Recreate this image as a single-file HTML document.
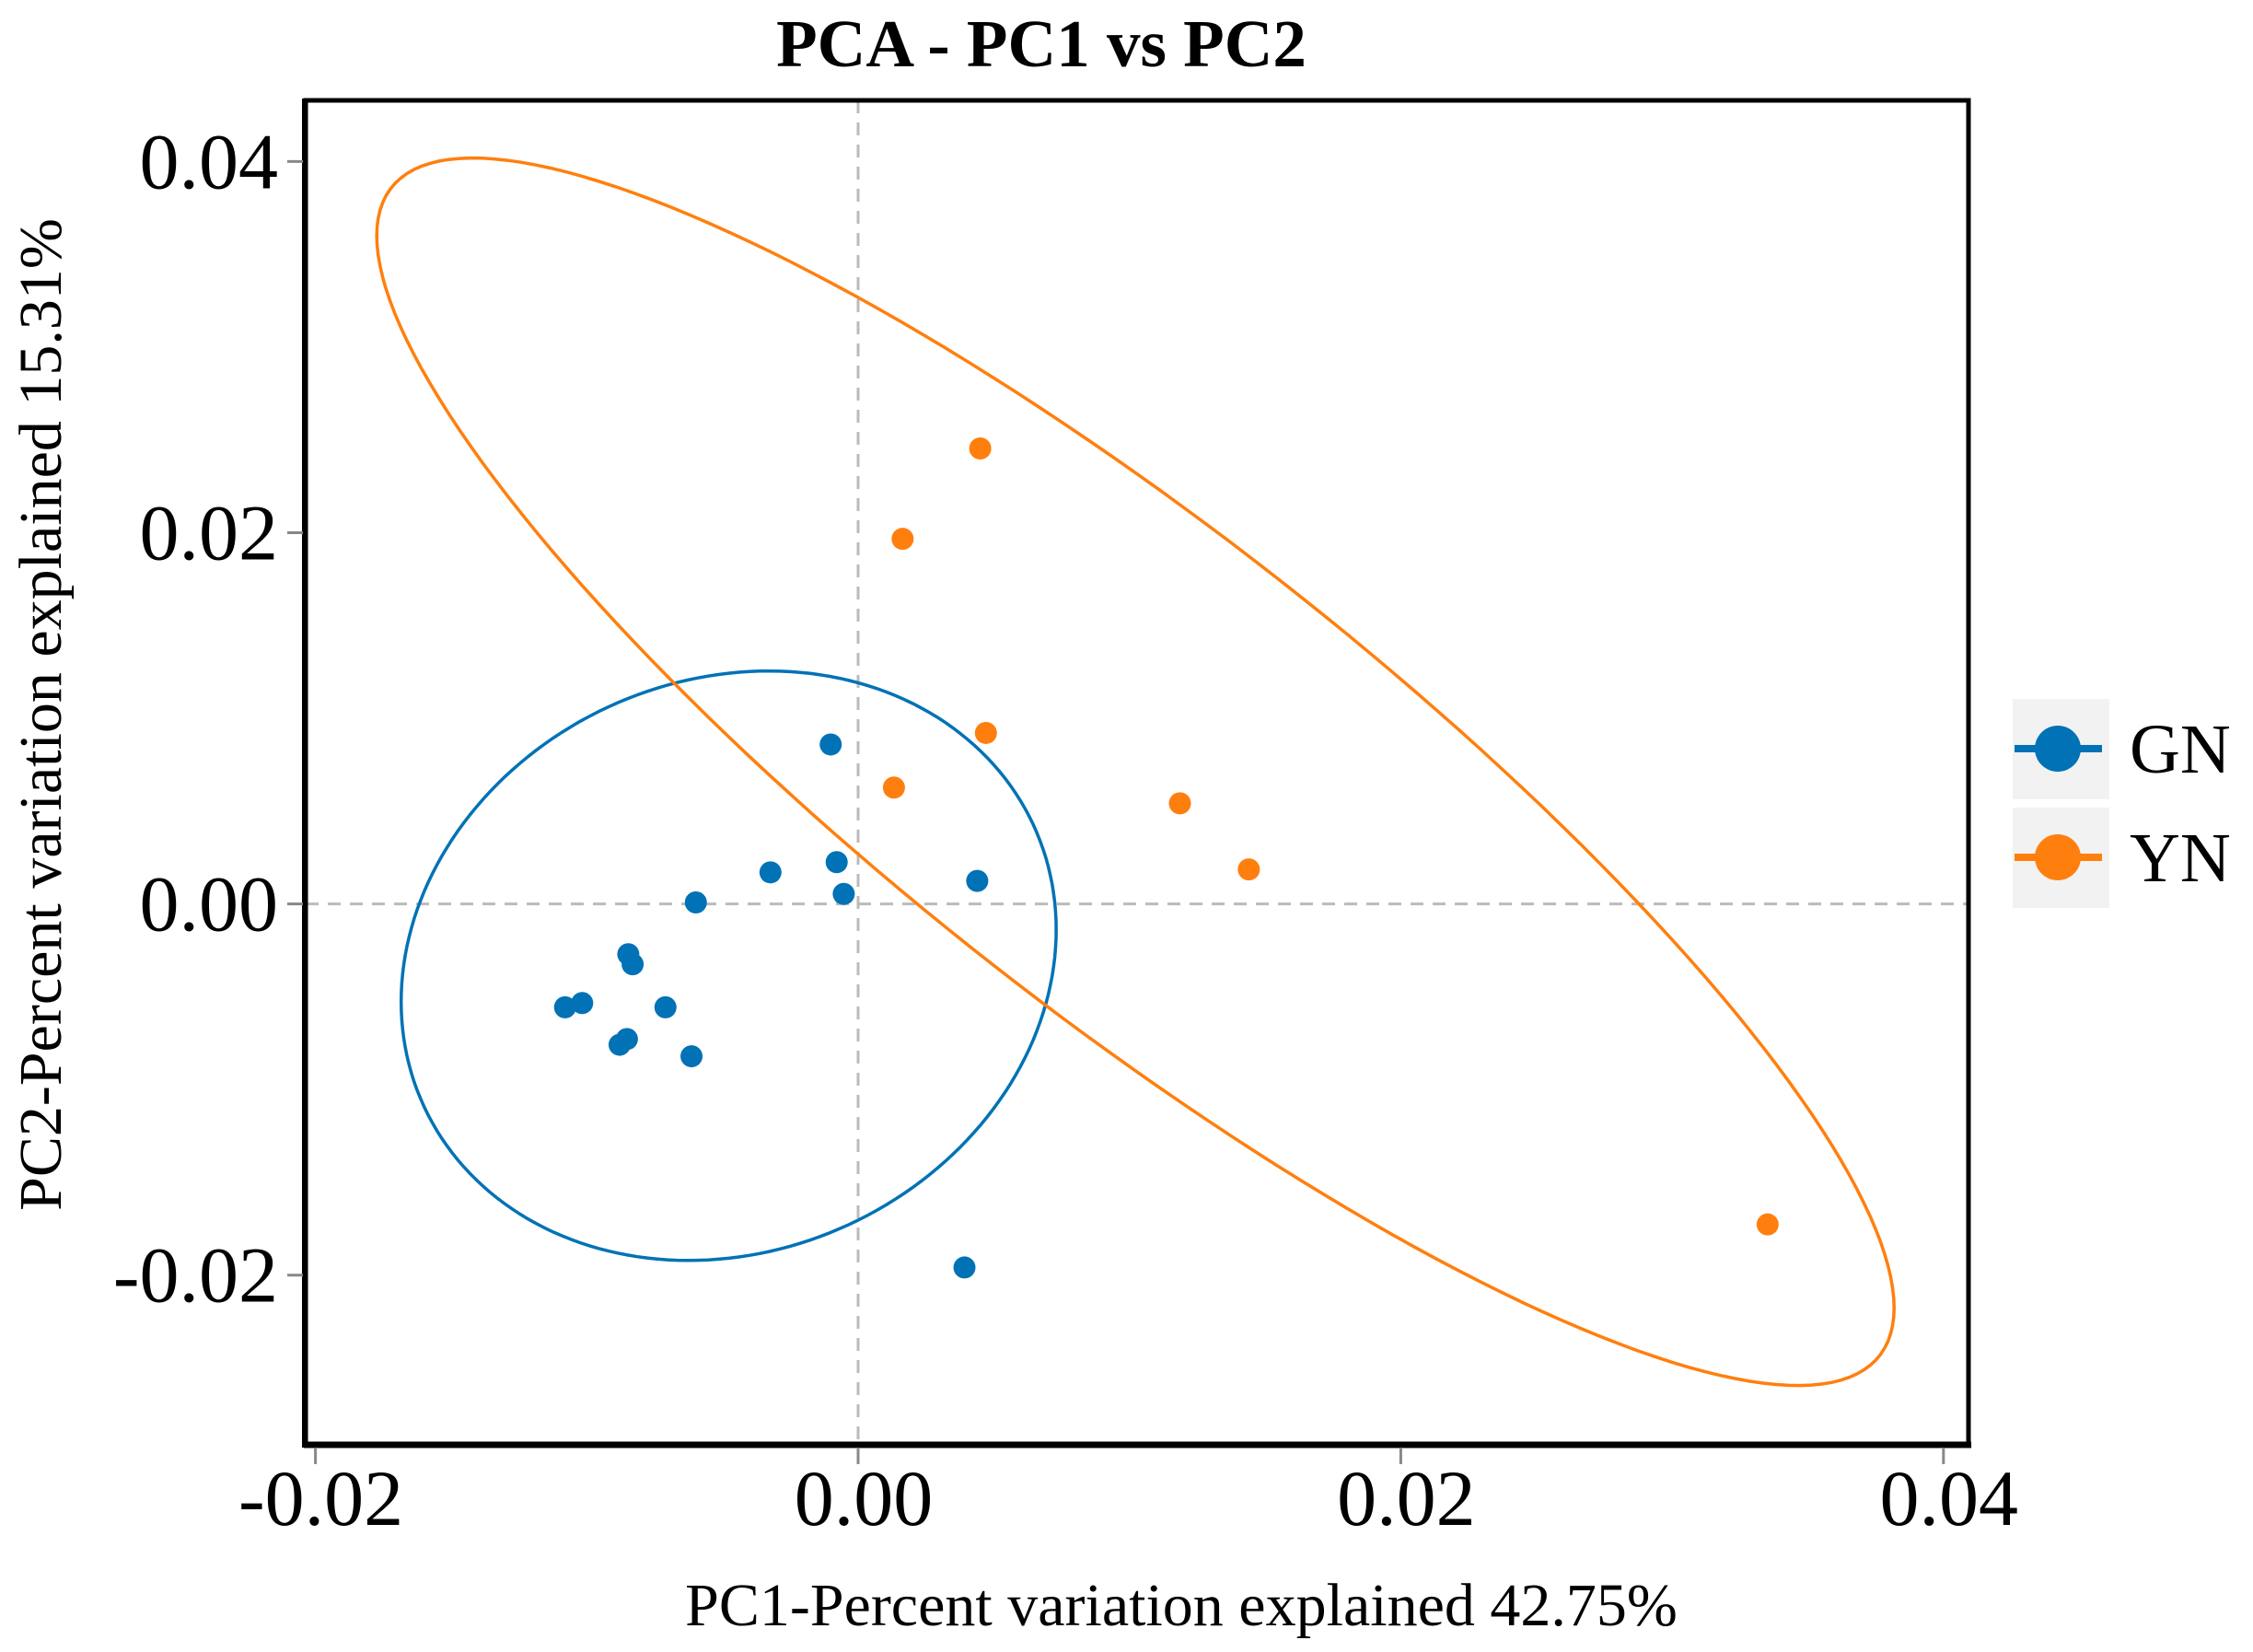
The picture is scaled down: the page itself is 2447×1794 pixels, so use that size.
<!DOCTYPE html>
<html><head><meta charset="utf-8"><style>
html,body{margin:0;padding:0;background:#fff;}
svg{display:block;font-family:"Liberation Serif",serif;}
</style></head><body>
<svg id="chart" width="2447" height="1794" viewBox="0 0 2447 1794" xmlns="http://www.w3.org/2000/svg"></svg>
<script>
const gnX=[-0.00101,-0.00323,-0.00079,-0.00053,0.00439,-0.00598,-0.00847,-0.00831,-0.01080,-0.01017,-0.00710,-0.00852,-0.00879,-0.00614,0.00392];
const gnY=[0.00859,0.00170,0.00225,0.00054,0.00124,0.00008,-0.00271,-0.00325,-0.00557,-0.00534,-0.00557,-0.00728,-0.00759,-0.00821,-0.01959];
const ynX=[0.00450,0.00164,0.00471,0.00132,0.01186,0.01440,0.03352];
const ynY=[0.02454,0.01967,0.00921,0.00627,0.00542,0.00186,-0.01727];
// ellipse: center, conjugate vectors A, B (data units)
const gnEllipse=[-0.00477,-0.00333,0.01207,0.00194,0,0.01576];
const ynEllipse=[0.01022,0.00712,0.02796,-0.02888,0,0.01611];
const xTicks=[-0.02,0.00,0.02,0.04];
const yTicks=[-0.02,0.00,0.02,0.04];
const xTickLabels=["-0.02","0.00","0.02","0.04"];
const yTickLabels=["-0.02","0.00","0.02","0.04"];

const svg=document.getElementById('chart');
const NS="http://www.w3.org/2000/svg";
const L=332,R=2138,T=109,B=1568;
function sx(v){return 932+v/0.02*589.4;}
function sy(v){return 981.6-v/0.02*403.1;}
function mk(tag,attrs,parent){const e=document.createElementNS(NS,tag);for(const k in attrs)e.setAttribute(k,attrs[k]);(parent||svg).appendChild(e);return e;}
const BLUE="#0072B5",ORANGE="#FF7F0E";

let e=mk('line',{x1:sx(0),x2:sx(0),y1:T,y2:B,stroke:'#bbb','stroke-width':3,'stroke-dasharray':'14,10'});


e=mk('line',{x1:L,x2:R,y1:sy(0),y2:sy(0),stroke:'#bbb','stroke-width':3,'stroke-dasharray':'14,10'});



function ell(p,color,name){
  let d='';
  for(let i=0;i<=200;i++){const t=i/200*2*Math.PI;
    const x=p[0]+p[2]*Math.cos(t)+p[4]*Math.sin(t);
    const y=p[1]+p[3]*Math.cos(t)+p[5]*Math.sin(t);
    d+=(i?'L':'M')+sx(x).toFixed(1)+','+sy(y).toFixed(1);}
  const el=mk('path',{d:d+'Z',fill:'none',stroke:color,'stroke-width':3.5});
  
  
}
ell(gnEllipse,BLUE,'gn-ellipse');
ell(ynEllipse,ORANGE,'yn-ellipse');

gnX.forEach((x,i)=>{const c=mk('circle',{cx:sx(x),cy:sy(gnY[i]),r:12,fill:BLUE});

});
ynX.forEach((x,i)=>{const c=mk('circle',{cx:sx(x),cy:sy(ynY[i]),r:12,fill:ORANGE});

});

e=mk('rect',{x:L,y:T,width:R-L,height:B-T,fill:'none',stroke:'#000','stroke-width':5});


e=mk('line',{x1:L-2,x2:R+3,y1:B+1,y2:B+1,stroke:'#000','stroke-width':7});


e=mk('line',{x1:L-1,x2:L-1,y1:T-2,y2:B+4,stroke:'#000','stroke-width':6});



xTicks.forEach((v,i)=>{
  const t=mk('line',{x1:sx(v),x2:sx(v),y1:B+4,y2:B+22,stroke:'#888','stroke-width':3});
  
  
  const tx=mk('text',{x:sx(v)+6,y:B+88,'font-size':86,'text-anchor':'middle',fill:'#000'});
  tx.textContent=xTickLabels[i];
  
  
});
yTicks.forEach((v,i)=>{
  const t=mk('line',{x1:L-20,x2:L-3,y1:sy(v),y2:sy(v),stroke:'#888','stroke-width':3});
  
  
  const tx=mk('text',{x:L-30,y:sy(v)+29,'font-size':86,'text-anchor':'end',fill:'#000'});
  tx.textContent=yTickLabels[i];
  
  
});

e=mk('text',{x:1131,y:72,'font-size':73,'font-weight':'bold','text-anchor':'middle'});
e.textContent='PCA - PC1 vs PC2';


e=mk('text',{x:1283,y:1765,'font-size':66,'text-anchor':'middle'});
e.textContent='PC1-Percent variation explained 42.75%';


e=mk('text',{x:0,y:0,'font-size':66,'text-anchor':'middle',transform:'translate(66,776) rotate(-90)'});
e.textContent='PC2-Percent variation explained 15.31%';



[['GN',BLUE,759],['YN',ORANGE,877]].forEach(([lab,col,y0])=>{
  const g=mk('g',{});
  
  
  mk('rect',{x:2186,y:y0,width:105,height:109,fill:'#f2f2f2'},g);
  mk('line',{x1:2188,x2:2283,y1:y0+54,y2:y0+54,stroke:col,'stroke-width':8},g);
  mk('circle',{cx:2235,cy:y0+54,r:25,fill:col},g);
  const t=mk('text',{x:2313,y:y0+80,'font-size':76,fill:'#000'},g);
  t.textContent=lab;
});
</script>
</body></html>
